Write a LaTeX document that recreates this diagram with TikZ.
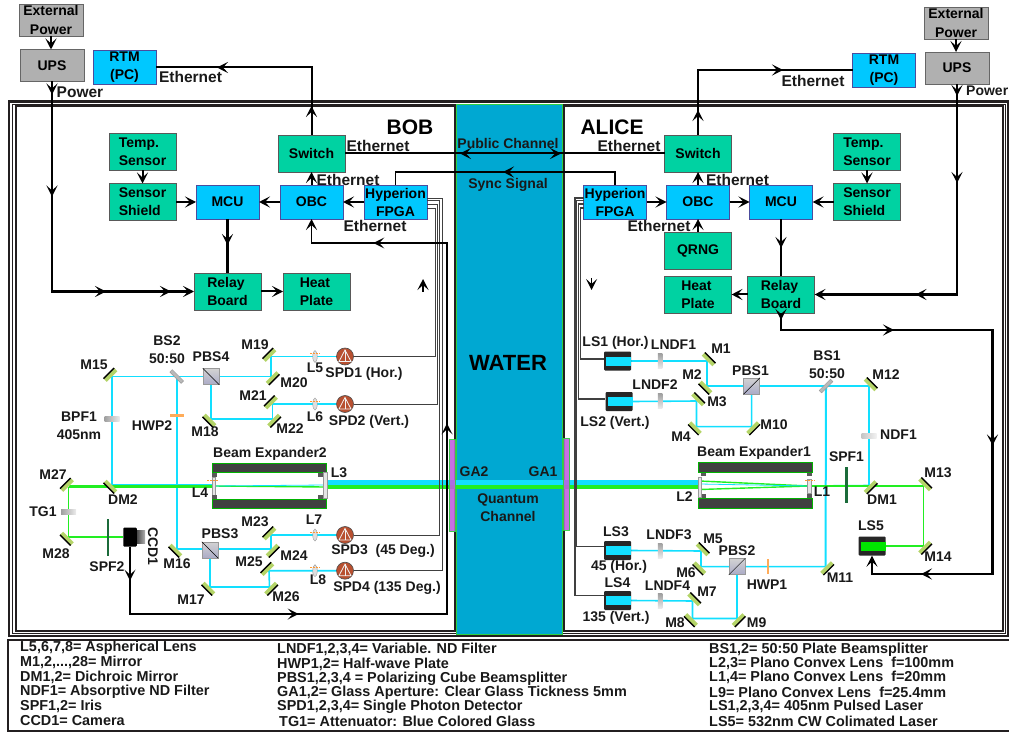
\documentclass[tikz,border=0pt]{standalone}
\usepackage{fontspec}
\setmainfont{Liberation Sans}
\usepackage{tikz}
\usetikzlibrary{shapes.geometric, arrows.meta, positioning, decorations.markings}
\definecolor{framedark}{HTML}{231F20}
\definecolor{water}{HTML}{00A8D2}
\definecolor{waterrim}{HTML}{30D040}
\definecolor{boxgreen}{HTML}{00D2A2}
\definecolor{boxblue}{HTML}{00C8FF}
\definecolor{boxgray}{HTML}{B0B0B0}
\definecolor{beamcyan}{HTML}{12DFFF}
\definecolor{beamgreen}{HTML}{22EE22}
\definecolor{mirrorlime}{HTML}{B4D468}
\definecolor{irisgreen}{HTML}{1B6B3A}
\definecolor{glass}{HTML}{C060E0}
\definecolor{spdbrown}{HTML}{B85030}
\pgfdeclarelayer{framelayer}
\pgfdeclarelayer{beamlayer}
\pgfsetlayers{framelayer,beamlayer,main}
% one part of the optics: mirror node, its back edge and its label
\newcommand{\mirror}[6]{%
  \node[mirrorface, rotate=#4] (#1) at (#2,#3) {};
  \draw[mirrorback] (#1.north west) -- (#1.north east);
  \node[tag] (t#1) at (#5,#6) {#1};}
\newcommand{\asphlens}[5]{%
  \node[asph] (#1) at (#2,#3) {};
  \draw[lenstick] ([shift={(-5,-3)}]#1.center) -- ([shift={(5,-3)}]#1.center);
  \node[tag] (t#1) at (#4,#5) {#1};}
\newcommand{\spdcell}[3]{%
  \node[spd] (#1) at (#2,#3) {};
  \draw[spdmark] ([shift={(0,-6.5)}]#1.center) -- ([shift={(-6,5)}]#1.center) -- ([shift={(6,5)}]#1.center) -- cycle;
  \draw[spdmark] ([shift={(0,-6.5)}]#1.center) -- ([shift={(0,5)}]#1.center);}
\newcommand{\lasercell}[4]{%
  \node[laserbody] (#1) at (#2,#3) {};
  \node[laserband, fill=#4, anchor=east] (#1band) at (#1.east) {};}

\begin{document}
\begin{tikzpicture}[
  x=1pt, y=-1pt,
  node distance=0pt,
  wiretip/.tip={Stealth[length=11pt,width=11pt,inset=5pt]},
  block/.style={rectangle, inner sep=0pt, outer sep=0pt, line width=0.8pt, align=center,
    font=\fontsize{14}{18}\selectfont\bfseries},
  greenbox/.style={block, draw=black!65, fill=boxgreen, minimum width=67pt, minimum height=37pt, align=left},
  bluebox/.style={block, draw=blue!45!black!70, fill=boxblue, minimum width=63pt, minimum height=34pt},
  graybox/.style={block, draw=black!60, fill=boxgray, minimum width=64pt, minimum height=32pt},
  tag/.style={inner sep=0pt, align=center, font=\fontsize{14}{18}\selectfont\bfseries, color=black!90},
  wiretag/.style={tag, font=\fontsize{15.5}{18}\selectfont\bfseries},
  bigtag/.style={tag, font=\fontsize{21}{24}\selectfont\bfseries, color=black},
  wire/.style={line width=2pt, color=black},
  arrow/.style={wire, -{wiretip}},
  sigline/.style={line width=0.8pt, color=black!75},
  tipat/.style={postaction={decorate, decoration={markings, mark=at position #1 with {\arrow{wiretip}}}}},
  tiprev/.style={postaction={decorate, decoration={markings, mark=at position #1 with {\arrowreversed{wiretip}}}}},
  beam/.style={line width=1.6pt, color=beamcyan},
  gbeam/.style={line width=1.4pt, color=beamgreen},
  mirrorface/.style={rectangle, anchor=south, inner sep=0pt, outer sep=0pt, minimum width=15pt, minimum height=4.5pt, fill=mirrorlime},
  mirrorback/.style={line width=1.3pt, color=black},
  asph/.style={ellipse, inner sep=0pt, minimum width=4.5pt, minimum height=12pt, fill=gray!25, draw=gray!80, line width=0.4pt},
  lenstick/.style={line width=0.6pt, dashed, dash pattern=on 2pt off 1pt, color=orange!80},
  xlens/.style={rectangle, inner sep=0pt, minimum width=3.5pt, fill=gray!20, draw=gray!80, line width=0.5pt},
  barrel/.style={rectangle, inner sep=0pt, minimum height=9.5pt, fill=black!75, draw=green!70!black, line width=0.5pt},
  hfilter/.style={rectangle, inner sep=0pt, minimum width=15pt, minimum height=4.5pt, left color=gray!75, right color=gray!15},
  vfilter/.style={rectangle, inner sep=0pt, minimum width=4.5pt, minimum height=15pt, top color=gray!75, bottom color=gray!15},
  bsplate/.style={rectangle, inner sep=0pt, minimum width=16pt, minimum height=3.5pt, fill=gray!55, draw=gray!80, line width=0.4pt},
  hwp/.style={rectangle, inner sep=0pt, fill=orange!65},
  pbs/.style={rectangle, inner sep=0pt, minimum width=16pt, minimum height=16pt, top color=gray!35, bottom color=blue!20!gray!55, draw=gray!80, line width=0.5pt},
  iris/.style={rectangle, inner sep=0pt, minimum width=2.6pt, minimum height=37pt, fill=irisgreen},
  spd/.style={circle, inner sep=0pt, minimum size=17pt, fill=spdbrown, draw=black!70, line width=0.6pt},
  spdmark/.style={line width=0.8pt, draw=gray!10},
  laserbody/.style={rectangle, rounded corners=1pt, inner sep=0pt, minimum width=27pt, minimum height=19pt, fill=black!85},
  laserband/.style={rectangle, inner sep=0pt, minimum width=25pt, minimum height=9pt},
  aperture/.style={rectangle, inner sep=0pt, minimum width=6.5pt, minimum height=92pt, fill=glass, draw=waterrim, line width=0.6pt, opacity=0.9},
  legendline/.style={tag, anchor=west, font=\fontsize{14.4}{18}\selectfont\bfseries},
]
  \useasboundingbox (0,0) rectangle (1009,735);

  % power and control side of Bob
  \node[graybox] (extB) at (51,20) {External\\Power};
  \node[graybox] (upsB) at (52,65.5) {UPS};
  \node[bluebox] (rtmB) at (124.5,67.5) {RTM\\(PC)};
  \node[bluebox] (mcuB) at (227.5,202) {MCU};
  \node[bluebox, right=21pt of mcuB] (obcB) {OBC};
  \node[bluebox, right=21pt of obcB] (fpgaB) {Hyperion\\FPGA};
  \node[greenbox, left=20pt of mcuB] (shieldB) {Sensor\\Shield};
  \node[greenbox, above=13pt of shieldB] (tempB) {Temp.\\Sensor};
  \node[greenbox, above=13pt of obcB] (switchB) {Switch};
  \node[greenbox] (relayB) at (227.5,291.5) {Relay\\Board};
  \node[greenbox, right=22pt of relayB] (heatB) {Heat\\Plate};

  % power and control side of Alice
  \node[graybox] (extA) at (956,23) {External\\Power};
  \node[graybox] (upsA) at (957,68) {UPS};
  \node[bluebox] (rtmA) at (884,70) {RTM\\(PC)};
  \node[bluebox] (obcA) at (698,202) {OBC};
  \node[bluebox, right=20pt of obcA] (mcuA) {MCU};
  \node[bluebox, left=20pt of obcA] (fpgaA) {Hyperion\\FPGA};
  \node[greenbox, right=21pt of mcuA] (shieldA) {Sensor\\Shield};
  \node[greenbox, above=13pt of shieldA] (tempA) {Temp.\\Sensor};
  \node[greenbox, above=13pt of obcA] (switchA) {Switch};
  \node[greenbox, below=13pt of obcA] (qrngA) {QRNG};
  \node[greenbox, below=7pt of qrngA] (heatA) {Heat\\Plate};
  \node[greenbox, right=16pt of heatA] (relayA) {Relay\\Board};

  % frames and the water channel
  \begin{pgfonlayer}{framelayer}
    \draw[framedark, line width=2.6pt] (9,101.5) rectangle (1008,636);
    \draw[framedark, line width=0.8pt] (12.7,104) rectangle (1005,633);
    \draw[framedark, line width=2pt] (15.6,106) rectangle (454.5,631);
    \draw[framedark, line width=2pt] (564,106) rectangle (1002.5,631);
    \draw[draw=waterrim, fill=water, line width=0.8pt] (456,104) rectangle (562,634);
    \draw[framedark, line width=1.3pt] (1009,640) -- (8,640) -- (8,731) -- (1009,731);
  \end{pgfonlayer}

  \node[bigtag] (tBOB) at (410,127.5) {BOB};
  \node[bigtag] (tALICE) at (612,127.5) {ALICE};
  \node[bigtag, font=\fontsize{22}{24}\selectfont\bfseries] (tWATER) at (508,363) {WATER};
  \node[tag] (tPublic) at (508,143) {Public Channel};
  \node[tag] (tSync) at (508,185) {Sync Signal};
  \node[tag] (tQuantum) at (508,507.5) {Quantum\\Channel};
  \node[tag] (tGAtwo) at (474,472) {GA2};
  \node[tag] (tGAone) at (543,472) {GA1};
  \node[aperture] (GA2) at (452.5,485.5) {};
  \node[aperture] (GA1) at (566.5,484) {};

  % wires of Bob
  \draw[arrow] (extB.south) -- (extB.south |- upsB.north);
  \draw[wire, line width=2.8pt, -{wiretip}, tipat=13pt, tipat=115pt, tipat=264pt, tipat=329pt] (upsB.south) |- (relayB.west);
  \draw[wire, tipat=29pt, tipat=162pt] (switchB.north) |- (rtmB.east);
  \draw[arrow] (tempB.south) -- (shieldB.north);
  \draw[arrow] (shieldB.east) -- (mcuB.west);
  \draw[arrow] (obcB.west) -- (mcuB.east);
  \draw[arrow] (fpgaB.west) -- (obcB.east);
  \draw[arrow] (obcB.north) -- (switchB.south);
  \draw[wire, line width=2.8pt, tipat=26pt] (mcuB.south) -- (relayB.north);
  \draw[arrow] (relayB.east) -- (heatB.west);
  \coordinate (upfrom) at (423,292);
  \coordinate (upto) at (423,279);
  \draw[arrow, line width=1.4pt] (upfrom) -- (upto);

  % wires of Alice
  \draw[arrow] (extA.south) -- (extA.south |- upsA.north);
  \draw[wire, line width=2.8pt, -{wiretip}, tipat=12pt, tipat=99pt, tipat=252pt] (upsA.south) |- (relayA.east);
  \draw[wire, tipat=25pt, tipat=150pt] (switchA.north) |- (rtmA.west);
  \draw[arrow] (tempA.south) -- (shieldA.north);
  \draw[arrow] (shieldA.west) -- (mcuA.east);
  \draw[arrow] (obcA.east) -- (mcuA.west);
  \draw[arrow] (fpgaA.east) -- (obcA.west);
  \draw[arrow] (obcA.north) -- (switchA.south);
  \draw[arrow] (qrngA.north) -- (obcA.south);
  \draw[wire, line width=2.8pt, tipat=29pt] (mcuA.south) -- (relayA.north);
  \draw[arrow] (relayA.west) -- (heatA.east);
  \coordinate (downfrom) at (591.6,278);
  \coordinate (downto) at (591.6,290);
  \draw[arrow, line width=1.4pt] (downfrom) -- (downto);

  % links across the water
  \draw[wire, tiprev=115pt, tipat=216pt] (switchB.east) -- (switchA.west);
  \draw[wire, line width=1.5pt, tipat=125pt] (fpgaA.north) |- (fpgaB.north |- 0,172) -- (fpgaB.north);

  \node[wiretag] (eth1) at (190.5,77) {Ethernet};
  \node[wiretag] (pow1) at (80,92) {Power};
  \node[wiretag] (eth2) at (378,146) {Ethernet};
  \node[wiretag] (eth3) at (348,179.5) {Ethernet};
  \node[wiretag] (eth4) at (375,225.5) {Ethernet};
  \node[wiretag] (eth5) at (813,81) {Ethernet};
  \node[tag, anchor=west] (pow2) at (966,91) {Power};
  \node[wiretag] (eth6) at (629,146) {Ethernet};
  \node[wiretag] (eth7) at (737.5,179.5) {Ethernet};
  \node[wiretag] (eth8) at (659,226) {Ethernet};

  % optics of Bob
  \mirror{M15}{112}{376.5}{45}{94}{365}
  \mirror{M19}{271}{356.5}{45}{255}{345}
  \mirror{M20}{271}{376.5}{225}{294}{383}
  \mirror{M21}{272.5}{404}{45}{253}{396}
  \mirror{M22}{272.5}{419}{225}{290}{429}
  \mirror{M18}{211}{419}{135}{205}{432}
  \mirror{M16}{177}{549}{135}{177}{564}
  \mirror{M17}{210}{587}{135}{191}{600}
  \mirror{M23}{271}{535}{45}{255}{522}
  \mirror{M24}{271}{549}{225}{294}{556}
  \mirror{M25}{269}{570.7}{45}{249}{562}
  \mirror{M26}{269.5}{587}{225}{286}{597}
  \mirror{M27}{68.5}{486.5}{45}{53}{475}
  \mirror{M28}{68.5}{537}{135}{56}{554}
  \mirror{DM2}{112}{485}{135}{123}{500}

  \node[bsplate, rotate=-45] (BS2) at (176.7,376.5) {};
  \node[tag] (tBS2) at (167,350) {BS2\\50:50};
  \node[hfilter] (BPF1) at (112,419) {};
  \node[tag] (tBPF1) at (79,426) {BPF1\\405nm};
  \node[hwp, minimum width=14pt, minimum height=2.5pt] (HWP2) at (177,415.3) {};
  \node[tag] (tHWP2) at (152,426) {HWP2};
  \node[hfilter] (TG1) at (68.5,512) {};
  \node[tag] (tTG1) at (43,512) {TG1};
  \node[iris] (SPF2) at (108,537.5) {};
  \node[tag] (tSPF2) at (107,567) {SPF2};
  \node[pbs] (PBS4) at (211,376.5) {};
  \draw[line width=0.5pt] (PBS4.north west) -- (PBS4.south east);
  \node[tag] (tPBS4) at (211,357) {PBS4};
  \node[pbs] (PBS3) at (210,550) {};
  \draw[line width=0.5pt] (PBS3.north west) -- (PBS3.south east);
  \node[tag] (tPBS3) at (220,534) {PBS3};

  \asphlens{L5}{315}{356.5}{315}{368}
  \asphlens{L6}{315}{404}{315}{417}
  \asphlens{L7}{315}{535}{314}{520}
  \asphlens{L8}{315}{570.7}{318}{580}
  \spdcell{SPD1}{345}{356.5}
  \spdcell{SPD2}{345}{404}
  \spdcell{SPD3}{345}{535}
  \spdcell{SPD4}{345}{570.7}
  \node[tag] (tSPD1) at (364,374) {SPD1 (Hor.)};
  \node[tag] (tSPD2) at (369,422) {SPD2 (Vert.)};
  \node[tag] (tSPD3) at (383,551) {SPD3~ (45 Deg.)};
  \node[tag] (tSPD4) at (387,588) {SPD4 (135 Deg.)};

  \node[rectangle, inner sep=0pt, minimum width=13.5pt, minimum height=19pt, fill=black, rounded corners=1pt] (CCD1) at (130,537) {};
  \node[rectangle, inner sep=0pt, minimum width=8pt, minimum height=13pt, left color=black!70, right color=black!30, anchor=west] (CCD1lens) at (CCD1.east) {};
  \node[tag, rotate=-90] (tCCD1) at (153,546.5) {CCD1};

  \node[barrel, minimum width=114pt] (BE2top) at (269,467.5) {};
  \node[barrel, minimum width=114pt] (BE2bot) at (269,503.5) {};
  \node[tag] (tBE2) at (270,454) {Beam Expander2};
  \node[xlens, minimum height=18pt] (L4) at (213.5,486) {};
  \node[xlens, minimum height=26pt, minimum width=4pt] (L3) at (325,485) {};
  \node[tag] (tL3) at (339,473) {L3};
  \node[tag] (tL4) at (200,493) {L4};
  \draw[lenstick] (207,480.7) -- (219,480.7);
  \foreach \cx/\cy in {214.5/475, 320/475, 214.5/497, 320/497, 703/474, 809/474, 703/496, 809/496}
    \fill[black!65] (\cx-2.5,\cy-2.2) rectangle (\cx+2.5,\cy+2.2);

  % signal lines from the detectors
  \draw[sigline] ([yshift=4pt]fpgaB.east) -| (442,570.7) -- (SPD4.east);
  \draw[sigline] ([yshift=1.5pt]fpgaB.east) -| (439.7,535) -- (SPD3.east);
  \draw[sigline] ([yshift=-2pt]fpgaB.east) -| (437.5,404) -- (SPD2.east);
  \draw[sigline] ([yshift=-6pt]fpgaB.east) -| (435.7,356.5) -- (SPD1.east);
  \draw[wire, line width=1.5pt, -{wiretip}, tipat=34pt, tipat=236pt, tipat=575pt, tipat=829pt] (CCD1.south) |- (447,614) -- (447,243) -| (obcB.south);

  % optics of Alice
  \lasercell{LS1}{617.5}{361}{beamcyan}
  \lasercell{LS2}{619}{401.5}{beamcyan}
  \lasercell{LS3}{617.5}{550.5}{beamcyan}
  \lasercell{LS4}{617.5}{600.5}{beamcyan}
  \lasercell{LS5}{872}{546}{green!90!black}
  \node[tag] (tLS1) at (615.5,343) {LS1 (Hor.)};
  \node[tag] (tLS2) at (615,423) {LS2 (Vert.)};
  \node[tag] (tLS3) at (616,532) {LS3};
  \node[tag] (tLS3b) at (619,567) {45 (Hor.)};
  \node[tag] (tLS4) at (617.5,583) {LS4};
  \node[tag] (tLS4b) at (616,618) {135 (Vert.)};
  \node[tag] (tLS5) at (871,526) {LS5};

  \mirror{M1}{707}{361}{-45}{721}{349}
  \mirror{M2}{707}{386}{135}{692}{375}
  \mirror{M3}{696.5}{401}{-45}{717}{402}
  \mirror{M4}{696.5}{426.6}{135}{681}{437}
  \mirror{M10}{751.6}{426.6}{225}{774}{425}
  \mirror{M12}{869}{386}{-45}{886}{375}
  \mirror{DM1}{869}{485.5}{225}{882}{500}
  \mirror{M13}{923.5}{486}{-45}{938}{473}
  \mirror{M14}{923.5}{546}{225}{938}{557}
  \mirror{M5}{701}{551}{-45}{713}{539}
  \mirror{M6}{701}{566.6}{135}{686}{573}
  \mirror{M7}{692.5}{601}{-45}{707}{592}
  \mirror{M8}{692.5}{618.5}{135}{675}{623}
  \mirror{M9}{737}{618.5}{225}{756.6}{623}
  \mirror{M11}{825.5}{566.6}{225}{840}{578}

  \node[vfilter] (LNDF1) at (660,361) {};
  \node[tag] (tLNDF1) at (673.5,345) {LNDF1};
  \node[vfilter] (LNDF2) at (660,401) {};
  \node[tag] (tLNDF2) at (655,385) {LNDF2};
  \node[vfilter] (LNDF3) at (660,550.5) {};
  \node[tag] (tLNDF3) at (669,535) {LNDF3};
  \node[vfilter] (LNDF4) at (660,601) {};
  \node[tag] (tLNDF4) at (667.5,586) {LNDF4};
  \node[hfilter, left color=gray!45, right color=gray!10] (NDF1) at (869,436) {};
  \node[tag] (tNDF1) at (898.5,435) {NDF1};
  \node[bsplate, rotate=45] (BS1) at (826,386) {};
  \node[tag] (tBS1) at (827,365) {BS1\\50:50};
  \node[pbs] (PBS1) at (751.7,386) {};
  \draw[line width=0.5pt] (PBS1.south west) -- (PBS1.north east);
  \node[tag] (tPBS1) at (750.5,371) {PBS1};
  \node[pbs] (PBS2) at (737,566.6) {};
  \draw[line width=0.5pt] (PBS2.south west) -- (PBS2.north east);
  \node[tag] (tPBS2) at (737,551) {PBS2};
  \node[hwp, minimum width=2.5pt, minimum height=15pt] (HWP1) at (768,566.6) {};
  \node[tag] (tHWP1) at (767,585) {HWP1};
  \node[iris, minimum height=36pt] (SPF1) at (846.5,485) {};
  \node[tag] (tSPF1) at (846.5,457) {SPF1};

  \node[barrel, minimum width=114pt] (BE1top) at (755,467.3) {};
  \node[barrel, minimum width=114pt] (BE1bot) at (755,503) {};
  \node[tag] (tBE1) at (754,452.7) {Beam Expander1};
  \node[xlens, minimum height=20pt] (L2) at (699.5,487) {};
  \node[xlens, minimum height=14pt] (L1) at (809,486) {};
  \node[tag] (tL2) at (684.6,497) {L2};
  \node[tag] (tL1) at (822,492) {L1};
  \draw[lenstick] (805,480.7) -- (815,480.7);

  % signal lines to the lasers
  \draw[sigline, line width=1.1pt] ([yshift=4pt]fpgaA.west) -| (575,595.7) -- ([yshift=4.8pt]LS4.west);
  \draw[sigline, line width=1.1pt] ([yshift=1.5pt]fpgaA.west) -| (576.5,546.7) -- ([yshift=3.8pt]LS3.west);
  \draw[sigline, line width=1.1pt] ([yshift=-2pt]fpgaA.west) -| (578.7,399) -- ([yshift=2.5pt]LS2.west);
  \draw[sigline, line width=1.1pt] ([yshift=-6pt]fpgaA.west) -| (580.5,359) -- ([yshift=2pt]LS1.west);
  \draw[wire, line width=2.4pt, -{wiretip}, tipat=7pt, tipat=130pt, tipat=344pt, tipat=544pt] (relayA.south) |- (992.5,330) |- (LS5.south |- 0,574) -- (LS5.south);

  % beams stay under the optics
  \begin{pgfonlayer}{beamlayer}
    \draw[beam] (M15.south) -- (M20.south) |- (M19.south) -- (SPD1.west);
    \draw[beam] (M15.south) -- (DM2.south);
    \draw[beam, line width=2pt] (BS2.center) |- (M16.south) -- (M24.south) -- (M23.south) -- (SPD3.west);
    \draw[beam] (PBS4.center |- M15.south) -- (M18.south) -- (M22.south) -- (M21.south) -- (SPD2.west);
    \draw[beam] (PBS3.center) -- (M17.south) -- (M26.south) -- (M25.south) -- (SPD4.west);
    \draw[beam] (DM2.south) -- (L4.center |- DM2.south);
    \draw[gbeam, line width=2.2pt] (M27.south) -- (L4.center |- M27.south);
    \draw[gbeam, line width=1.7pt] (M27.south) -- (M28.south) -- (CCD1.west);
    \draw[gbeam] ([yshift=-2pt]L3.center) -- (L4.center);
    \draw[beam, line width=0.8pt] (L3.center) -- (L4.center);
    \draw[beam, line width=4.5pt] ([yshift=2.5pt]L3.center) -- ([yshift=2.5pt]L3.center -| L2.center);
    \draw[gbeam, line width=4pt] ([yshift=-2pt]L3.center) -- ([yshift=-2pt]L3.center -| L2.center);

    \draw[beam] (LS1band.east) -- (M1.south) -- (M2.south) -- (M12.south) -- (DM1.south) -- (L1.center);
    \draw[beam] (LS2band.east) -- (M3.south) -- (M4.south) -- (M10.south) -- (M10.south |- M2.south);
    \draw[beam] (LS3band.east) -- (M5.south) -- (M6.south) -- (M11.south);
    \draw[beam] (LS4band.east) -- (M7.south) -- (M8.south) -- (M9.south) -- (M9.south |- PBS2.center);
    \draw[beam, line width=2pt] (BS1.center) -- (M11.south);
    \draw[gbeam] (LS5band.east) -- (M14.south) -- (M13.south) -- (L1.center);
    \draw[gbeam] (L1.center) -- ([yshift=6pt]L2.center);
    \draw[gbeam] (L1.center) -- ([yshift=-2.5pt]L2.center);
    \draw[beam, line width=0.8pt] (L1.center) -- ([yshift=3pt]L2.center);
  \end{pgfonlayer}

  % legend
  \node[legendline] (k11) at (20,648) {L5,6,7,8= Aspherical Lens};
  \node[legendline] (k12) at (20,662.7) {M1,2,...,28= Mirror};
  \node[legendline] (k13) at (20,677.5) {DM1,2= Dichroic Mirror};
  \node[legendline] (k14) at (20,692) {NDF1= Absorptive ND Filter};
  \node[legendline] (k15) at (20,706.7) {SPF1,2= Iris};
  \node[legendline] (k16) at (20,721) {CCD1= Camera};
  \node[legendline] (k21) at (277,649) {LNDF1,2,3,4= Variable. ND Filter};
  \node[legendline] (k22) at (277,664) {HWP1,2= Half-wave Plate};
  \node[legendline] (k23) at (277,678.7) {PBS1,2,3,4 = Polarizing Cube Beamsplitter};
  \node[legendline] (k24) at (277,692.5) {GA1,2= Glass Aperture: Clear Glass Tickness 5mm};
  \node[legendline] (k25) at (277,706.7) {SPD1,2,3,4= Single Photon Detector};
  \node[legendline] (k26) at (279,721) {TG1= Attenuator: Blue Colored Glass};
  \node[legendline] (k31) at (709,650) {BS1,2= 50:50 Plate Beamsplitter};
  \node[legendline] (k32) at (709,663.3) {L2,3= Plano Convex Lens~ f=100mm};
  \node[legendline] (k33) at (709,677.7) {L1,4= Plano Convex Lens~ f=20mm};
  \node[legendline] (k34) at (709,692.3) {L9= Plano Convex Lens~ f=25.4mm};
  \node[legendline] (k35) at (709,706.7) {LS1,2,3,4= 405nm Pulsed Laser};
  \node[legendline] (k36) at (709,721.7) {LS5= 532nm CW Colimated Laser};
\end{tikzpicture}
\end{document}
